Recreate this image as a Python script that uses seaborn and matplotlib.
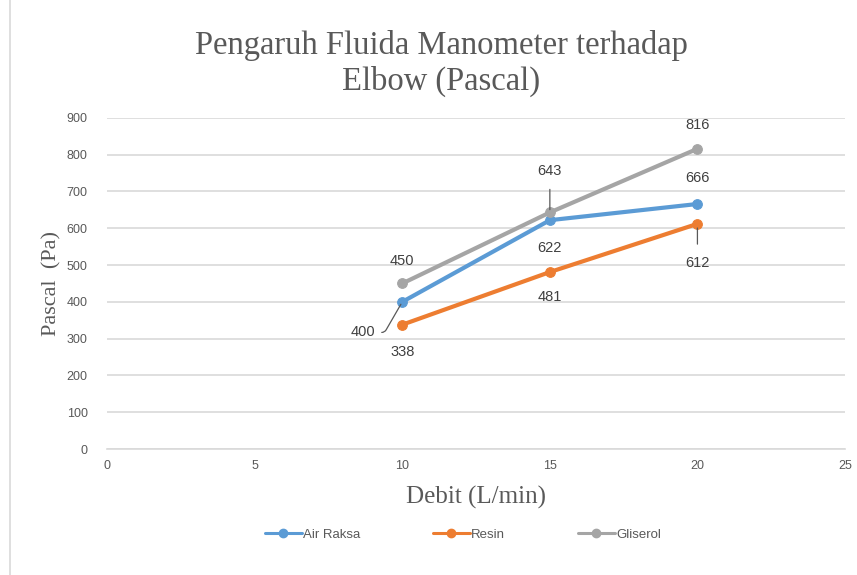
import matplotlib
matplotlib.use("Agg")
import matplotlib.pyplot as plt
import seaborn as sns
import pandas as pd
from matplotlib.patches import Rectangle
from matplotlib.lines import Line2D

debit = [10, 15, 20]
air_raksa = [400, 622, 666]
resin = [338, 481, 612]
gliserol = [450, 643, 816]
series_names = ["Air Raksa", "Resin", "Gliserol"]
colors = ["#5B9BD5", "#ED7D31", "#A5A5A5"]
x_ticks = [0, 5, 10, 15, 20, 25]
y_ticks = [0, 100, 200, 300, 400, 500, 600, 700, 800, 900]

sns.set_style("white")
plt.rcParams['font.family'] = ['Liberation Sans', 'DejaVu Sans']

df = pd.DataFrame({
    "Debit": debit * 3,
    "Pascal": air_raksa + resin + gliserol,
    "Seri": [s for s in series_names for _ in debit],
})

fig = plt.figure(figsize=(8.57, 5.75), dpi=100)
ax = fig.add_axes([0.125, 0.219, 0.861, 0.576])

# outer chart border
fig.patches.append(Rectangle((0.012, -0.01), 0.99, 1.02, transform=fig.transFigure,
                             fill=False, edgecolor="#D9D9D9", linewidth=1.2))

for name, col in zip(series_names, colors):
    sub = df[df["Seri"] == name]
    sns.lineplot(data=sub, x="Debit", y="Pascal", ax=ax, color=col, linewidth=3.0,
                 marker="o", markersize=7, markeredgecolor=col, label=name,
                 legend=False)

ax.set_xlim(0, 25)
ax.set_ylim(0, 900)
ax.set_xticks(x_ticks)
ax.set_yticks(y_ticks)
ax.tick_params(axis="both", labelsize=9, colors="#595959", length=0)
ax.tick_params(axis="x", pad=8)
ax.tick_params(axis="y", pad=14)
ax.grid(axis="y", color="#D9D9D9", linewidth=1.2)
ax.grid(axis="x", visible=False)
for sp in ["top", "right", "left"]:
    ax.spines[sp].set_visible(False)
ax.spines["bottom"].set_color("#D9D9D9")
ax.spines["bottom"].set_linewidth(1.2)

ax.set_xlabel("Debit (L/min)", fontsize=18, color="#595959", family="Liberation Serif", labelpad=10)
ax.set_ylabel("Pascal  (Pa)", fontsize=16, color="#595959", family="Liberation Serif", labelpad=4)
fig.text(0.515, 0.948, "Pengaruh Fluida Manometer terhadap\nElbow (Pascal)", ha="center", va="top",
         fontsize=23.5, color="#595959", family="Liberation Serif", linespacing=1.2)

lab_kw = dict(fontsize=10.5, color="#404040", ha="center")
# Air Raksa
ax.annotate(str(air_raksa[0]), xy=(debit[0], air_raksa[0]), xytext=(-28, -22), textcoords="offset points",
            va="center", arrowprops=dict(arrowstyle="-", color="#595959", lw=0.9,
                                          connectionstyle="angle,angleA=0,angleB=60,rad=3"), **lab_kw)
ax.annotate(str(air_raksa[1]), xy=(debit[1], air_raksa[1]), xytext=(0, -20), textcoords="offset points", va="center", **lab_kw)
ax.annotate(str(air_raksa[2]), xy=(debit[2], air_raksa[2]), xytext=(0, 19), textcoords="offset points", va="center", **lab_kw)
# Resin
ax.annotate(str(resin[0]), xy=(debit[0], resin[0]), xytext=(0, -20), textcoords="offset points", va="center", **lab_kw)
ax.annotate(str(resin[1]), xy=(debit[1], resin[1]), xytext=(0, -18), textcoords="offset points", va="center", **lab_kw)
ax.annotate(str(resin[2]), xy=(debit[2], resin[2]), xytext=(0, -28), textcoords="offset points", va="center",
            arrowprops=dict(arrowstyle="-", color="#595959", lw=0.9, shrinkA=6, shrinkB=3), **lab_kw)
# Gliserol
ax.annotate(str(gliserol[0]), xy=(debit[0], gliserol[0]), xytext=(0, 16), textcoords="offset points", va="center", **lab_kw)
ax.annotate(str(gliserol[1]), xy=(debit[1], gliserol[1]), xytext=(0, 30), textcoords="offset points", va="center",
            arrowprops=dict(arrowstyle="-", color="#595959", lw=0.9, shrinkA=6, shrinkB=2), **lab_kw)
ax.annotate(str(gliserol[2]), xy=(debit[2], gliserol[2]), xytext=(0, 17), textcoords="offset points", va="center", **lab_kw)

handles = [Line2D([], [], color=c, lw=2.2, marker="o", markersize=6, markeredgecolor=c) for c in colors]
fig.legend(handles, series_names, loc="center", bbox_to_anchor=(0.54, 0.07), ncol=3, frameon=False,
           fontsize=9.5, labelcolor="#595959", handlelength=2.8, columnspacing=5.5, handletextpad=0.1)

fig.savefig("out.png", dpi=100)
